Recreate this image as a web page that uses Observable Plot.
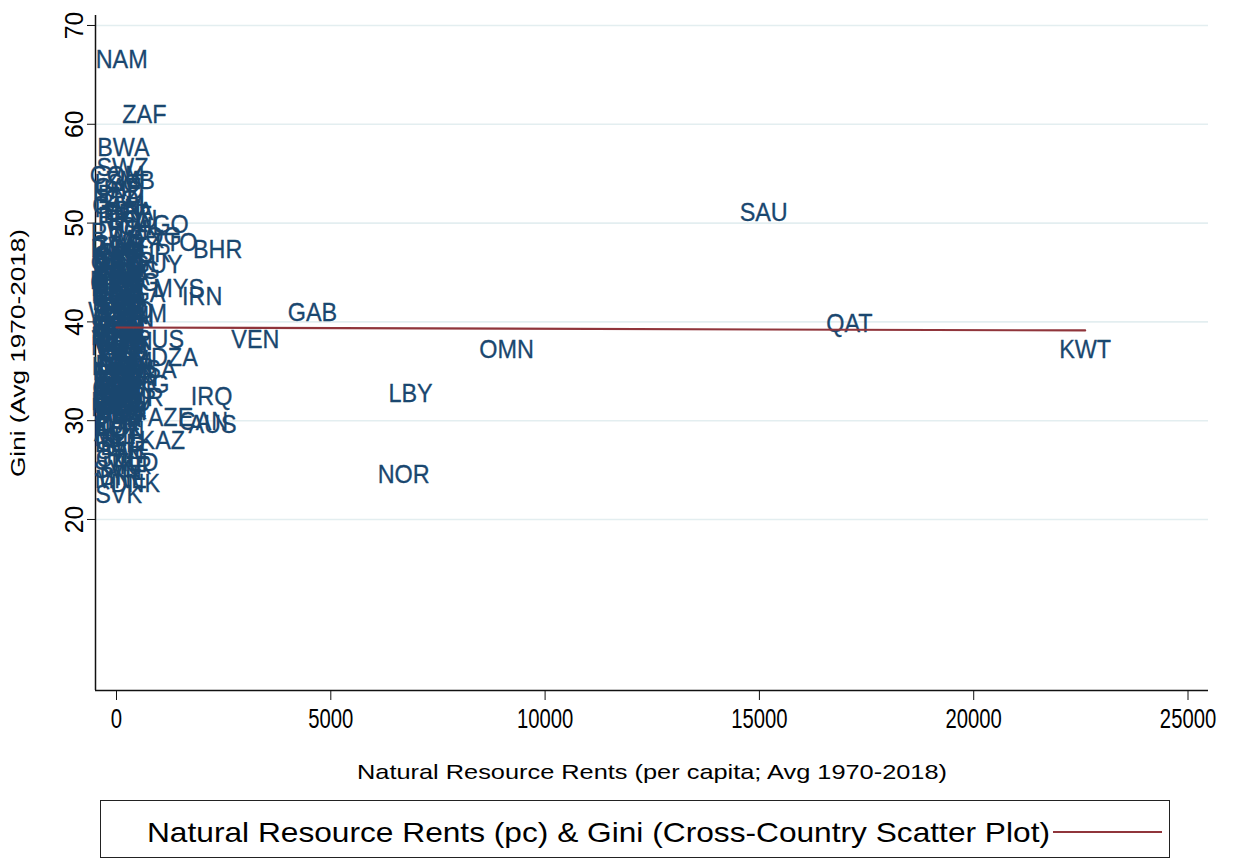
<!DOCTYPE html>
<html><head><meta charset="utf-8">
<script src="https://cdn.jsdelivr.net/npm/d3@7"></script>
<script src="https://cdn.jsdelivr.net/npm/@observablehq/plot@0.6"></script>
<style>
body{margin:0;background:#fff;font-family:"Liberation Sans",Arial,sans-serif;}
#wrap{position:relative;width:1235px;height:862px;overflow:hidden;background:#fff}
#chart{position:absolute;left:0;top:0}
#legend{position:absolute;left:100px;top:800px;width:1070px;height:58px;border:1.5px solid #222;box-sizing:border-box;background:#fff}
</style></head><body><div id="wrap"><div id="chart"></div><div id="legend"></div></div>
<script>
// ---- data ----
const codes = ["NAM","ZAF","BWA","SWZ","COM","ZMB","LSO","CAF","HND","BLZ","COL","GTM","PAN","BRA","PER","PRY","ECU","HTI","AGO","CHL","BOL","RWA","COG","MEX","TTO","GNB","ZWE","DOM","BHR","NIC","CRI","SUR","CPV","SLV","MOZ","CMR","GUY","KEN","JAM","ARG","URY","MWI","GHA","PHL","MDG","GMB","STP","UGA","MYS","TGO","BEN","NGA","IRN","LCA","COD","TUR","CIV","SEN","DJI","TCD","SSD","GAB","TKM","TUN","BTN","SLE","BFA","QAT","MAR","GEO","LKA","ISR","TZA","MKD","THA","VEN","RUS","CHN","BDI","MRT","VNM","OMN","KWT","LAO","GIN","DZA","IDN","YEM","MLI","NPL","KHM","SYR","USA","NER","SDN","UZB","GBR","LBR","ITA","ESP","LTU","MNG","IND","PRT","GRC","IRL","LVA","EST","LBY","ETH","CHE","IRQ","MMR","BGD","JPN","KOR","ROU","FRA","LBN","EGY","MDA","POL","BGR","ARM","HRV","ALB","DEU","AZE","PAK","TJK","CAN","AUS","LUX","KGZ","HUN","AUT","ISL","MLT","KAZ","BEL","BLR","SWE","FIN","CZE","NLD","UKR","SVN","NOR","BIH","MNE","DNK","SVK","SAU",
  "SGP","HKG","MUS","FJI","PNG","SLB","VUT","TON","WSM","KIR","FSM","MHL","TLS","BRB","BHS","GRD","SYC","MDV","NZL","CUB","SRB","ERI","SOM","PSE","KNA","VCT","DMA","ATG","BRN","TWN"];
const rents = [120,650,160,140,15,320,30,25,40,60,260,40,30,300,250,120,380,10,1080,600,350,20,900,520,1350,20,80,30,2360,50,30,700,10,20,40,250,950,40,120,420,150,20,180,40,20,10,10,30,1450,40,20,550,2000,10,60,60,90,20,10,160,300,4570,600,200,120,30,30,17100,60,50,40,30,40,30,150,3240,1000,250,10,160,120,9100,22600,150,60,1350,300,250,40,40,30,320,840,20,150,400,260,60,30,20,40,600,60,20,40,40,60,150,6860,30,20,2220,450,30,10,5,200,20,5,250,20,150,130,100,100,80,60,1260,60,30,2030,2240,10,60,60,20,30,5,1070,10,150,150,200,60,430,250,30,6700,60,100,440,50,15100,
  5,5,10,40,400,200,20,10,10,50,10,5,420,10,20,5,30,10,100,80,100,10,20,5,5,10,20,10,300,350];
const gini = [66.5,61.0,57.6,55.6,54.8,54.3,54.0,53.6,53.3,52.9,52.4,51.8,51.5,51.2,51.0,50.6,50.3,50.0,49.8,49.6,49.3,49.0,48.6,48.3,48.0,47.8,47.6,47.4,47.3,47.2,47.0,46.9,46.7,46.5,46.3,46.1,45.8,45.6,45.4,45.2,45.0,44.8,44.6,44.4,44.2,44.0,43.8,43.6,43.4,43.3,43.1,42.9,42.6,42.5,42.3,42.1,41.9,41.7,41.5,41.3,41.1,40.95,40.8,40.6,40.4,40.2,40.0,39.8,39.7,39.5,39.3,39.0,38.8,38.6,38.4,38.2,38.2,38.0,37.8,37.6,37.4,37.2,37.2,37.0,36.8,36.4,36.2,36.0,35.8,35.7,35.5,35.4,35.2,35.0,34.8,34.7,34.5,34.3,34.2,34.0,33.8,33.6,33.5,33.4,33.2,33.0,32.9,32.8,32.75,32.6,32.5,32.4,32.3,32.1,32.0,31.9,31.8,31.7,31.6,31.5,31.3,31.2,31.0,30.9,30.8,30.6,30.5,30.3,30.2,30.0,29.9,29.6,29.5,29.3,29.0,28.8,28.5,28.3,28.0,27.7,27.4,27.0,26.6,26.2,25.8,25.4,25.0,24.55,24.3,24.0,23.6,22.5,51.1,
  42.5,43.5,37.5,40.5,44.0,37.0,37.3,37.7,41.0,36.5,42.0,39.0,33.0,45.5,44.5,46.0,45.8,38.5,34.0,38.0,33.3,35.5,39.5,34.8,44.7,46.4,43.0,41.4,40.3,34.4];
const fitRents = [0, 22600];
const fitGini = [39.43, 39.13];
const xTicks = [0, 5000, 10000, 15000, 20000, 25000];
const yTicks = [20, 30, 40, 50, 60, 70];
const xTitle = "Natural Resource Rents (per capita; Avg 1970-2018)";
const yTitle = "Gini (Avg 1970-2018)";
const legendLabel = "Natural Resource Rents (pc) & Gini (Cross-Country Scatter Plot)";

// ---- tables ----
const countries = codes.map((c, i) => ({code: c, rent: rents[i], gini: gini[i]}));
const fit = fitRents.map((r, i) => ({rent: r, gini: fitGini[i]}));

const navy = "#1a476f", maroon = "#90353b";
const chart = Plot.plot({
  width: 1235, height: 790,
  marginLeft: 95, marginTop: 15, marginRight: 27, marginBottom: 100,
  style: {fontFamily: '"Liberation Sans", Arial, sans-serif', background: "white", overflow: "visible"},
  x: {domain: [-490, 25478], ticks: xTicks},
  y: {domain: [2.69, 71.01], ticks: yTicks},
  marks: [
    Plot.gridY(yTicks, {stroke: "#e3eef0", strokeOpacity: 1, strokeWidth: 1.6}),
    Plot.ruleX([-490], {stroke: "#111", strokeWidth: 1.5}),
    Plot.ruleY([2.69], {stroke: "#111", strokeWidth: 1.5}),
    Plot.axisX(xTicks, {tickSize: 10, tickPadding: 8, fontSize: 27, label: null, stroke: "#111", fill: "#000", tickFormat: d => String(d)}),
    Plot.axisY(yTicks, {tickSize: 8, tickPadding: 5, tickRotate: -90, textAnchor: "middle", lineAnchor: "bottom", fontSize: 26, label: null, stroke: "#111", fill: "#000"}),
    Plot.text(countries, {x: "rent", y: "gini", text: "code", fill: navy, stroke: navy, strokeWidth: 0.3, fontSize: 26, className: "clab"}),
    Plot.line(fit, {x: "rent", y: "gini", stroke: maroon, strokeWidth: 2.2}),
    Plot.text([xTitle], {frameAnchor: "bottom", dy: 88, fontSize: 21, fill: "#000", className: "xtitle"}),
    Plot.text([yTitle], {frameAnchor: "left", textAnchor: "middle", dx: -77, rotate: -90, fontSize: 21, fill: "#000", className: "ytitle"})
  ]
});
document.getElementById("chart").appendChild(chart);

// condense glyphs horizontally like the original export
function condense(sel, f) {
  sel.each(function() {
    const w = this.getComputedTextLength();
    this.setAttribute("textLength", (w * f).toFixed(1));
    this.setAttribute("lengthAdjust", "spacingAndGlyphs");
  });
}
const svg = d3.select(chart);
condense(svg.selectAll(".clab text"), 0.9);
condense(svg.selectAll("[aria-label='x-axis tick label'] text"), 0.75);
condense(svg.selectAll("[aria-label='y-axis tick label'] text"), 0.95);
svg.selectAll(".xtitle text").attr("textLength", 590).attr("lengthAdjust", "spacingAndGlyphs");
svg.selectAll(".ytitle text").attr("textLength", 248).attr("lengthAdjust", "spacingAndGlyphs");

// legend
const lg = d3.select("#legend").append("svg").attr("width", 1067).attr("height", 55);
lg.append("text").attr("x", 46).attr("y", 41).attr("font-size", 28)
  .attr("font-family", '"Liberation Sans", Arial, sans-serif').attr("fill", "#000")
  .attr("textLength", 903).attr("lengthAdjust", "spacingAndGlyphs").text(legendLabel);
lg.append("line").attr("x1", 952).attr("x2", 1061).attr("y1", 31).attr("y2", 31)
  .attr("stroke", maroon).attr("stroke-width", 2.2);
</script></body></html>
